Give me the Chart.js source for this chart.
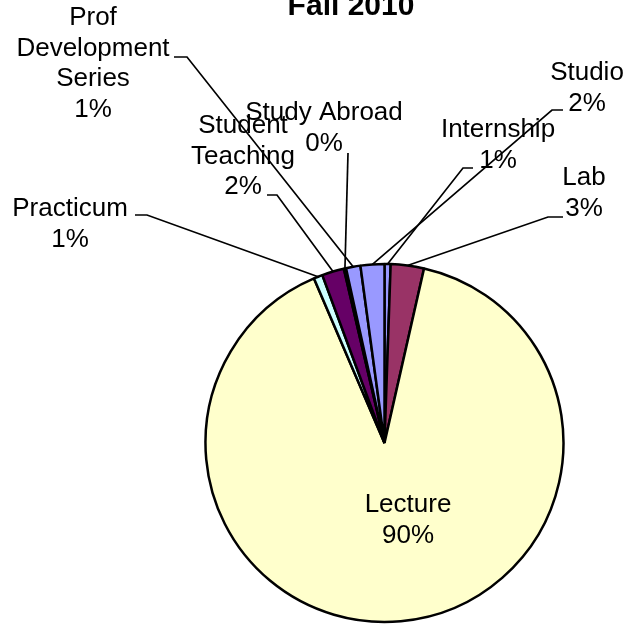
<!DOCTYPE html>
<html>
<head>
<meta charset="utf-8">
<script src="https://cdn.jsdelivr.net/npm/chart.js@4/dist/chart.umd.min.js"></script>
<style>
  html, body { margin: 0; padding: 0; background: #ffffff; }
  #wrap { width: 630px; height: 624px; position: relative; overflow: hidden; }
</style>
</head>
<body>
<div id="wrap"><canvas id="chart" width="630" height="624"></canvas></div>
<script>
// Course delivery formats, Fall 2010 (share of sections, %)
const chartTitle = 'Fall 2010';
const categories = ['Internship', 'Lab', 'Lecture', 'Practicum', 'Student Teaching',
                    'Study Abroad', 'Prof Development Series', 'Studio'];
const shares = [0.55, 3.0, 90.1, 0.8, 2.0, 0.2, 1.3, 2.15];
const sliceColors = ['#9999FF', '#993366', '#FFFFCC', '#CCFFFF', '#660066',
                     '#9999FF', '#9999FF', '#9999FF'];
// how each category name wraps in its label
const labelLines = [['Internship'], ['Lab'], ['Lecture'], ['Practicum'], ['Student', 'Teaching'],
                    ['Study Abroad'], ['Prof', 'Development', 'Series'], ['Studio']];

// label placement: centre x, first baseline, and the leader path leaving the label
const labelLayout = [
  { cx: 498, y: 137, leader: [[473, 168], [463, 168]] },
  { cx: 584, y: 185, leader: [[563, 217], [548, 217]] },
  { cx: 408, y: 512, leader: null },
  { cx: 70,  y: 216, leader: [[135, 215], [147, 215]] },
  { cx: 243, y: 133, leader: [[267, 195], [277, 195]] },
  { cx: 324, y: 120, leader: [[348, 153]] },
  { cx: 93,  y: 25,  leader: [[174, 57], [187, 57]] },
  { cx: 587, y: 80,  leader: [[563, 110], [552, 110]] }
];

const FONT = "'Liberation Sans', Arial, Helvetica, sans-serif";
const LINE_H = 30.5;

const labelPlugin = {
  id: 'pieLabels',
  afterDatasetsDraw(chart) {
    const ctx = chart.ctx;
    const meta = chart.getDatasetMeta(0);
    const values = chart.data.datasets[0].data;
    const total = values.reduce((a, b) => a + b, 0);

    ctx.save();
    // leader lines from each label to the middle of its slice's rim
    ctx.strokeStyle = '#000000';
    ctx.lineWidth = 1.7;
    meta.data.forEach((arc, i) => {
      const lay = labelLayout[i];
      if (!lay.leader) return;
      const p = arc.getProps(['x', 'y', 'startAngle', 'endAngle', 'outerRadius'], true);
      const mid = (p.startAngle + p.endAngle) / 2;
      const ex = p.x + Math.cos(mid) * p.outerRadius;
      const ey = p.y + Math.sin(mid) * p.outerRadius;
      ctx.beginPath();
      ctx.moveTo(lay.leader[0][0], lay.leader[0][1]);
      for (let k = 1; k < lay.leader.length; k++) ctx.lineTo(lay.leader[k][0], lay.leader[k][1]);
      ctx.lineTo(ex, ey);
      ctx.stroke();
    });

    // category name and rounded percentage
    ctx.fillStyle = '#000000';
    ctx.textAlign = 'center';
    ctx.textBaseline = 'alphabetic';
    ctx.font = '26px ' + FONT;
    values.forEach((v, i) => {
      const lay = labelLayout[i];
      const lines = labelLines[i].concat([Math.round(v / total * 100) + '%']);
      lines.forEach((t, k) => ctx.fillText(t, lay.cx, lay.y + k * LINE_H));
    });

    // chart title
    ctx.font = 'bold 30px ' + FONT;
    ctx.fillText(chartTitle, 351, 15);
    ctx.restore();
  }
};

new Chart(document.getElementById('chart'), {
  type: 'pie',
  data: {
    labels: categories,
    datasets: [{
      data: shares,
      backgroundColor: sliceColors,
      borderColor: '#000000',
      borderWidth: 2.5,
      radius: 179
    }]
  },
  options: {
    responsive: false,
    animation: false,
    layout: { padding: { left: 139, right: 0, top: 262, bottom: 0 } },
    plugins: {
      legend: { display: false },
      title: { display: false },
      tooltip: { enabled: false }
    }
  },
  plugins: [labelPlugin]
});
</script>
</body>
</html>
